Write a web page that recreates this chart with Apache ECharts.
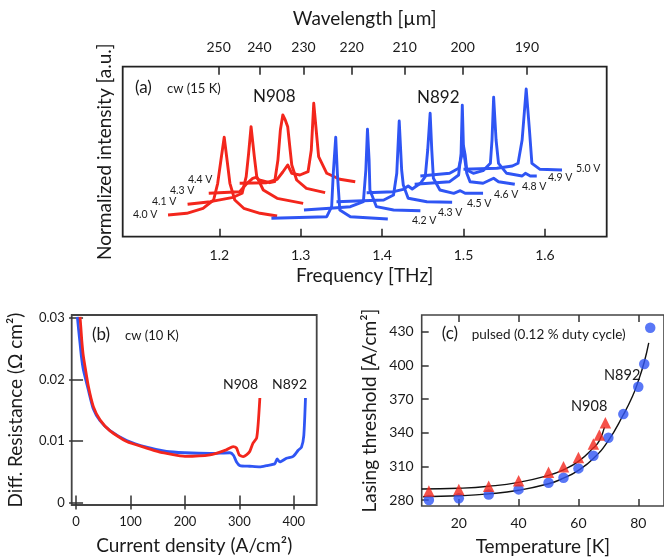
<!DOCTYPE html>
<html>
<head>
<meta charset="utf-8">
<script src="https://cdn.jsdelivr.net/npm/echarts@6/dist/echarts.min.js"></script>
<style>
  html, body { margin: 0; background: #fff; }
  #chart { width: 664px; height: 558px; }
</style>
</head>
<body>
<div id="chart"></div>
<script>
// 频率 <-> 波长换算 (um * THz)
const C_UM_THZ = 299.792;
const FONT = 'Lato';
const RED = '#f3261c';
const BLUE = '#2f55f4';
const INK = '#1a1a1a';

// (a) 光谱 [频率 THz, 强度 a.u.]
const n908_40 = [[1.137,21.7],[1.160,23.4],[1.180,28.4],[1.193,36.7],[1.198,53.4],[1.202,76.7],[1.206,99.4],[1.209,80],[1.213,53.4],[1.219,36.7],[1.230,28.4],[1.250,23.4],[1.271,20.7]];
const n908_41 = [[1.161,32.4],[1.189,35],[1.217,39.4],[1.228,43.4],[1.233,60],[1.236,83.4],[1.239,110],[1.243,80],[1.246,60],[1.254,46.7],[1.271,38.4],[1.303,33.4]];
const n908_43 = [[1.187,43.4],[1.225,45],[1.234,53.4],[1.241,58.4],[1.245,59.4],[1.249,56.7],[1.262,54],[1.268,55],[1.272,76.7],[1.275,106.7],[1.278,121.7],[1.281,116.7],[1.284,110],[1.287,86.7],[1.289,71.7],[1.295,56.7],[1.307,48.4],[1.330,44]];
const n908_44 = [[1.225,53.4],[1.258,54],[1.271,57.4],[1.278,64.7],[1.284,71.7],[1.289,63.4],[1.299,61.7],[1.309,65],[1.313,86.7],[1.316,133.4],[1.319,106.7],[1.322,80],[1.332,63.4],[1.348,57.4],[1.367,55]];

const n892_42 = [[1.264,18.4],[1.332,20],[1.338,30],[1.340,63.4],[1.343,99.4],[1.345,63.4],[1.348,26.7],[1.361,20],[1.407,17.7]];
const n892_43 = [[1.304,26.7],[1.336,28.4],[1.361,30],[1.377,35],[1.380,66.7],[1.382,107.4],[1.384,76.7],[1.385,46.7],[1.393,30],[1.414,26.7],[1.447,26]];
const n892_45 = [[1.344,35],[1.402,36.7],[1.414,41.7],[1.418,63.4],[1.421,115.7],[1.424,66.7],[1.426,51.7],[1.432,38.4],[1.455,35],[1.486,34.4]];
const n892_46 = [[1.381,44],[1.414,45],[1.426,47.4],[1.432,50.7],[1.437,47.7],[1.447,53.4],[1.453,60],[1.456,86.7],[1.459,123.4],[1.461,86.7],[1.463,58.4],[1.471,46.7],[1.488,43.4],[1.496,46],[1.502,43.4],[1.524,43.4]];
const n892_48 = [[1.440,52.4],[1.483,55],[1.494,61.7],[1.497,83.4],[1.4985,131.4],[1.500,86.7],[1.504,63.4],[1.508,55],[1.524,53.4],[1.537,58.4],[1.543,55],[1.563,52.4]];
const n892_49 = [[1.447,60.7],[1.483,63.4],[1.494,68.4],[1.498,81.7],[1.500,90.7],[1.502,81.7],[1.504,66.7],[1.512,63.4],[1.524,66],[1.533,73.4],[1.535,96.7],[1.537,139.4],[1.540,96.7],[1.543,73.4],[1.553,63.4],[1.572,60.7],[1.576,63.4],[1.582,60.7],[1.590,60.7]];
const n892_50 = [[1.500,67.4],[1.541,68.4],[1.560,70.7],[1.567,73.4],[1.572,96.7],[1.577,147.7],[1.581,106.7],[1.584,73.4],[1.594,67.4],[1.621,66.7]];

const n908Spectra = [n908_40, n908_41, n908_43, n908_44];
const n892Spectra = [n892_42, n892_43, n892_45, n892_46, n892_48, n892_49, n892_50];
const n908Volts = ['4.0 V', '4.1 V', '4.3 V', '4.4 V'];
const n892Volts = ['4.2 V', '4.3 V', '4.5 V', '4.6 V', '4.8 V', '4.9 V', '5.0 V'];

const freqTicks = [1.2, 1.3, 1.4, 1.5, 1.6];
const wavelengthTicks = [250, 240, 230, 220, 210, 200, 190];

// (b) 微分电阻 [电流密度 A/cm2, 电阻 Ohm cm2]
const resN908 = [[7.3,0.0302],[8.8,0.0285],[10.4,0.0265],[13,0.0241],[16.5,0.0221],[22.6,0.0189],[31.8,0.0156],[44,0.01345],[62.4,0.01166],[93,0.00992],[129.6,0.00885],[154,0.0082],[166,0.0080],[200,0.00752],[246,0.00776],[276,0.00857],[288.6,0.0091],[294.8,0.00885],[299.6,0.00776],[307,0.00748],[313,0.00776],[319,0.0083],[325,0.00966],[331.6,0.01047],[334.6,0.0129],[337.6,0.0170]];
const resN892 = [[2.4,0.0302],[4.8,0.0280],[7.3,0.0259],[10,0.0236],[13.4,0.0216],[22.6,0.0183],[31.8,0.0152],[44,0.0133],[62.4,0.0117],[93,0.0101],[129.6,0.0090],[166,0.0083],[200,0.0081],[246,0.0080],[282.7,0.0081],[289,0.0077],[294.8,0.0066],[300.9,0.0060],[319,0.0059],[337.6,0.0058],[349.8,0.0060],[365,0.0063],[369.4,0.0071],[374.3,0.0066],[386.5,0.0072],[398.8,0.0075],[408,0.0085],[414,0.0090],[418.3,0.0109],[421.4,0.0170]];
const currentTicks = [0, 100, 200, 300, 400];
const resTicks = [0, 0.01, 0.02, 0.03];

// (c) 激射阈值
const tempN892 = [10, 20, 30, 40, 50, 55, 60, 65, 70, 75, 80, 82, 84];
const jthN892 = [280, 281.5, 285, 289.5, 295.4, 299.9, 308.2, 319.5, 335.5, 356.6, 381, 401.2, 433.6];
const tempN908 = [10, 20, 30, 40, 50, 55, 60, 65, 67, 69];
const jthN908 = [288, 289.5, 292.4, 297.2, 304.7, 309.7, 318, 329.9, 337.9, 348.9];
const fitTempN892 = [8, 20, 30, 40, 50, 55, 60, 65, 70, 75, 78, 80, 82, 83.5];
const fitJthN892 = [283, 283.8, 285.5, 288.7, 294.5, 299.5, 306.5, 317, 333, 356, 372, 386, 403, 420];
const fitTempN908 = [7.6, 20, 30, 40, 50, 55, 60, 65, 67, 68.7];
const fitJthN908 = [289.8, 290.5, 292.3, 295.8, 302, 307, 314.5, 326.5, 333, 345];
const tempTicks = [20, 40, 60, 80];
const jthTicks = [280, 310, 340, 370, 400, 430];

const zip = (xs, ys) => xs.map((x, i) => [x, ys[i]]);

function axisBase(gridIndex, min, max, ticks, extra) {
  return Object.assign({
    type: 'value', gridIndex: gridIndex, min: min, max: max,
    axisLine: { show: false },
    splitLine: { show: false },
    axisTick: { show: true, inside: true, length: 7, customValues: ticks, lineStyle: { color: '#333', width: 1.5 } },
    axisLabel: { show: true, customValues: ticks, color: INK, fontFamily: FONT, fontSize: 14, margin: 12 },
    nameTextStyle: { color: INK, fontFamily: FONT, fontSize: 19 }
  }, extra);
}

function txt(x, y, s, size, align) {
  return {
    type: 'text', left: x, top: y - size * 0.62,
    style: { text: s, fill: INK, font: size + 'px ' + FONT, textAlign: align || 'left' }
  };
}

const chart = echarts.init(document.getElementById('chart'), null, { renderer: 'canvas' });

const series = [];
n908Spectra.forEach((d, i) => series.push({
  type: 'line', name: 'N908 ' + n908Volts[i], xAxisIndex: 0, yAxisIndex: 0, data: d,
  showSymbol: false, lineStyle: { color: RED, width: 2.9, join: 'round' }, z: 3
}));
n892Spectra.forEach((d, i) => series.push({
  type: 'line', name: 'N892 ' + n892Volts[i], xAxisIndex: 0, yAxisIndex: 0, data: d,
  showSymbol: false, lineStyle: { color: BLUE, width: 2.9, join: 'round' }, z: 3
}));
series.push(
  { type: 'line', xAxisIndex: 2, yAxisIndex: 1, data: resN892, showSymbol: false, smooth: 0.2, lineStyle: { color: BLUE, width: 2.8 } },
  { type: 'line', xAxisIndex: 2, yAxisIndex: 1, data: resN908, showSymbol: false, smooth: 0.2, lineStyle: { color: RED, width: 2.8 } },
  { type: 'line', xAxisIndex: 4, yAxisIndex: 3, data: zip(fitTempN892, fitJthN892), showSymbol: false, smooth: true, lineStyle: { color: '#111', width: 1.4 } },
  { type: 'line', xAxisIndex: 4, yAxisIndex: 3, data: zip(fitTempN908, fitJthN908), showSymbol: false, smooth: true, lineStyle: { color: '#111', width: 1.4 } },
  { type: 'scatter', xAxisIndex: 4, yAxisIndex: 3, data: zip(tempN892, jthN892), symbol: 'circle', symbolSize: 10.5, itemStyle: { color: BLUE }, z: 4 },
  { type: 'scatter', xAxisIndex: 4, yAxisIndex: 3, data: zip(tempN908, jthN908), symbol: 'triangle', symbolSize: 11.5, itemStyle: { color: RED }, z: 4 }
);

const noLabel = { show: false };

const option = {
  animation: false,
  backgroundColor: '#fff',
  grid: [
    { left: 122.7, top: 66.7, width: 484, height: 170, show: true, borderColor: '#222', borderWidth: 1.8 },
    { left: 71.7, top: 315, width: 245, height: 190, show: true, borderColor: '#444', borderWidth: 1.8 },
    { left: 421.7, top: 315, width: 250, height: 191, show: true, borderColor: '#444', borderWidth: 1.6 }
  ],
  xAxis: [
    axisBase(0, 1.0813, 1.6759, freqTicks, {
      position: 'bottom', name: 'Frequency [THz]', nameLocation: 'middle', nameGap: 30,
      axisTick: { show: true, inside: true, length: 8, customValues: freqTicks, lineStyle: { color: '#222', width: 1.5 } },
      axisLabel: { customValues: freqTicks, color: INK, fontFamily: FONT, fontSize: 14, margin: 12, formatter: v => v.toFixed(1) }
    }),
    axisBase(0, 1.0813, 1.6759, wavelengthTicks.map(w => C_UM_THZ / w), {
      position: 'top', name: 'Wavelength [\u00b5m]', nameLocation: 'middle', nameGap: 38,
      axisTick: { show: true, inside: true, length: 8, customValues: wavelengthTicks.map(w => C_UM_THZ / w), lineStyle: { color: '#222', width: 1.5 } },
      axisLabel: { customValues: wavelengthTicks.map(w => C_UM_THZ / w), color: INK, fontFamily: FONT, fontSize: 14, margin: 12, formatter: v => String(Math.round(C_UM_THZ / v)) }
    }),
    axisBase(1, -8, 442, currentTicks, {
      position: 'bottom', name: 'Current density (A/cm\u00b2)', nameLocation: 'middle', nameGap: 31,
      axisLabel: { customValues: currentTicks, color: INK, fontFamily: FONT, fontSize: 13, margin: 10 }
    }),
    axisBase(1, -8, 442, currentTicks, { position: 'top', axisLabel: noLabel }),
    axisBase(2, 7.6, 88.6, tempTicks, {
      position: 'bottom', name: 'Temperature [K]', nameLocation: 'middle', nameGap: 31,
      axisLabel: { customValues: tempTicks, color: INK, fontFamily: FONT, fontSize: 14, margin: 10 }
    }),
    axisBase(2, 7.6, 88.6, tempTicks, { position: 'top', axisLabel: noLabel })
  ],
  yAxis: [
    axisBase(0, 0, 170, [], {
      name: 'Normalized intensity [a.u.]', nameLocation: 'middle', nameGap: 8,
      axisTick: { show: false }, axisLabel: noLabel
    }),
    axisBase(1, -0.0004, 0.0305, resTicks, {
      position: 'left', name: 'Diff. Resistance (\u03a9 cm\u00b2)', nameLocation: 'middle', nameGap: 46,
      axisLabel: { customValues: resTicks, color: INK, fontFamily: FONT, fontSize: 13, margin: 7, formatter: v => v === 0 ? '0' : v.toFixed(2) }
    }),
    axisBase(1, -0.0004, 0.0305, resTicks, { position: 'right', axisLabel: noLabel }),
    axisBase(2, 274.7, 444.9, jthTicks, {
      position: 'left', name: 'Lasing threshold [A/cm\u00b2]', nameLocation: 'middle', nameGap: 42,
      axisLabel: { customValues: jthTicks, color: INK, fontFamily: FONT, fontSize: 14, margin: 8 }
    })
  ],
  series: series,
  graphic: [
    txt(135, 90, '(a)', 17), txt(167, 90, 'cw (15 K)', 13),
    txt(253, 99, 'N908', 17), txt(417, 100, 'N892', 17),
    txt(133, 216, n908Volts[0], 10.5), txt(152, 202.7, n908Volts[1], 10.5),
    txt(170, 191.7, n908Volts[2], 10.5), txt(188, 180.7, n908Volts[3], 10.5),
    txt(412, 221.7, n892Volts[0], 10.5), txt(438, 213.3, n892Volts[1], 10.5),
    txt(467, 205, n892Volts[2], 10.5), txt(494, 196, n892Volts[3], 10.5),
    txt(522, 187.3, n892Volts[4], 10.5), txt(548, 178.3, n892Volts[5], 10.5),
    txt(576, 169.3, n892Volts[6], 10.5),
    txt(92, 336.7, '(b)', 17), txt(125, 337, 'cw (10 K)', 13),
    txt(223, 386, 'N908', 14), txt(272, 386, 'N892', 14),
    txt(441.7, 336, '(c)', 17), txt(471.7, 336, 'pulsed (0.12 % duty cycle)', 13.5),
    txt(604, 377, 'N892', 14.5), txt(571, 408, 'N908', 14.5)
  ]
};

chart.setOption(option);
</script>
</body>
</html>
